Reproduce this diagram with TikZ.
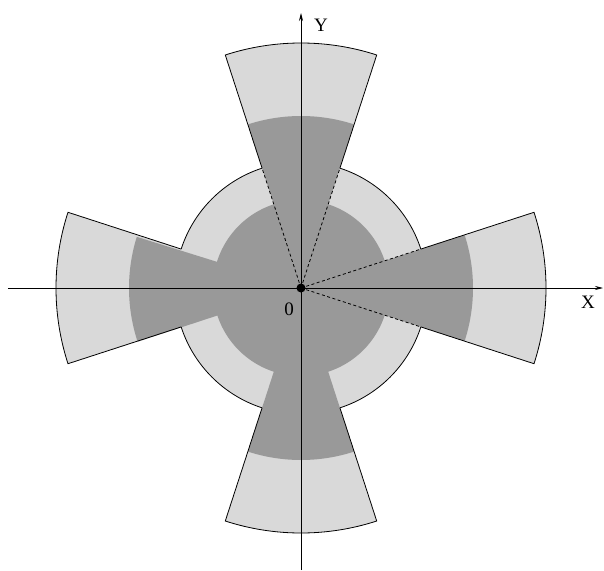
\documentclass[tikz,border=0pt]{standalone}
\usepackage{fontspec}
\setmainfont{Liberation Serif}
\usetikzlibrary{arrows.meta}
\begin{document}
\begin{tikzpicture}[x=1pt,y=1pt,
  lightfill/.style={fill=gray!30},
  darkfill/.style={fill=gray!80},
  outline/.style={draw=black, line width=0.8pt},
  dashline/.style={draw=black, dashed, dash pattern=on 3pt off 2.5pt, line width=0.8pt},
  axisline/.style={draw=black, line width=0.8pt, -{Stealth[length=8pt,width=4pt]}},
  lbl/.style={font=\fontsize{19}{22}\selectfont, inner sep=0pt}]
\useasboundingbox (-301,-282) rectangle (303,288);
\def\Ro{245}
\def\Rm{126}
\def\Ri{88}
\def\Rd{172}
\def\ha{18}
% light outer sectors
\foreach \a in {0,90,180,270} {
  \fill[lightfill] (0,0) -- (\a-\ha:\Ro) arc[start angle=\a-\ha, end angle=\a+\ha, radius=\Ro] -- cycle;
}
% light middle disc
\fill[lightfill] (0,0) circle[radius=\Rm];
% dark inner disc and sectors
\fill[darkfill] (0,0) circle[radius=\Ri];
\foreach \s/\e in {-18/18, 72/108, 162.7/198.2, 252/288} {
  \fill[darkfill] (0,0) -- (\s:\Rd) arc[start angle=\s, end angle=\e, radius=\Rd] -- cycle;
}
% outlines
\foreach \a in {0,90,180,270} {
  \draw[outline] (\a-\ha:\Rm) -- (\a-\ha:\Ro) arc[start angle=\a-\ha, end angle=\a+\ha, radius=\Ro] -- (\a+\ha:\Rm);
  \draw[outline] (\a+\ha:\Rm) arc[start angle=\a+\ha, end angle=\a+90-\ha, radius=\Rm];
}
% dashed rays
\coordinate (O) at (0,0);
\foreach \a in {-18,18,72,108} {
  \draw[dashline] (O) -- (\a:\Rm);
}
% axes
\coordinate (xl) at (-293,0);
\coordinate (xr) at (302,0);
\coordinate (yb) at (0,-282);
\coordinate (yt) at (0,275);
\draw[axisline] (xl) -- (xr);
\draw[axisline] (yb) -- (yt);
\fill[black] (O) circle[radius=4.5];
\node[lbl] (ylab) at (20,263) {Y};
\node[lbl] (xlab) at (287,-14) {X};
\node[lbl] (zero) at (-12,-21) {0};
\end{tikzpicture}
\end{document}
